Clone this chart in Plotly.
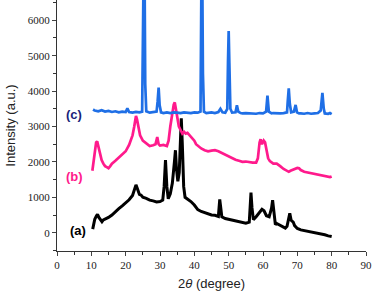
import plotly.graph_objects as go

# (a) black
a_x = [10.4, 10.7, 11, 11.5, 11.8, 12.2, 12.7, 13.1, 13.5, 14, 15, 16, 17, 18, 19, 20, 21, 22, 22.5, 23, 23.4, 24, 24.5, 25, 26, 27, 28, 29, 30, 30.8, 31.2, 31.6, 32, 32.4, 33, 33.6, 34.2, 34.5, 34.8, 35.2, 35.6, 36, 36.2, 36.5, 36.9, 37.3, 38, 39, 40, 41, 42, 43, 44, 45, 46, 47, 47.2, 47.4, 47.7, 48, 49, 50, 51, 52, 53, 54, 55, 56, 56.3, 56.5, 56.8, 57.2, 58, 59, 59.7, 60.3, 61, 61.8, 62.5, 62.8, 63.1, 63.6, 64, 65, 66, 66.5, 67, 67.5, 67.8, 68.2, 68.8, 69.2, 70, 71, 72, 73, 74, 75, 76, 77, 78, 79, 80]
a_y = [100, 250, 380, 480, 520, 430, 350, 310, 360, 380, 430, 500, 600, 680, 760, 850, 930, 1050, 1180, 1350, 1250, 1080, 1060, 1000, 970, 920, 900, 870, 880, 920, 1300, 2050, 1300, 960, 1100, 1400, 2000, 2330, 1800, 1450, 1700, 2800, 3230, 2500, 1300, 1000, 950, 880, 780, 650, 600, 560, 520, 500, 490, 460, 700, 940, 700, 450, 400, 380, 360, 340, 300, 280, 270, 300, 800, 1130, 700, 370, 450, 580, 660, 620, 480, 450, 700, 920, 600, 230, 260, 200, 140, 130, 180, 450, 550, 350, 300, 200, 120, 80, 60, 40, 20, 0, -10, -20, -60, -90, -110]

# (b) pink
b_x = [10.3, 10.6, 11, 11.4, 11.7, 12, 12.5, 13, 13.5, 14, 14.5, 15, 15.5, 16, 17, 18, 19, 20, 21, 22, 22.5, 23, 23.3, 23.7, 24.2, 25, 25.7, 26.5, 27, 28, 28.7, 29.2, 29.6, 30, 31, 32, 32.5, 33, 33.5, 34, 34.3, 34.7, 35, 35.5, 36, 36.5, 37, 37.5, 38, 39, 40, 40.5, 41, 42, 43, 44, 45, 46, 47, 48, 49, 50, 51, 52, 53, 54, 55, 56, 57, 58, 58.5, 59, 59.3, 59.7, 60.2, 60.6, 61, 61.5, 62, 63, 64, 64.5, 65, 66, 67, 67.5, 68, 69, 70, 70.5, 71, 72, 73, 74, 75, 76, 77, 78, 79, 79.5, 80]
b_y = [1750, 1950, 2300, 2550, 2580, 2450, 2200, 2050, 1950, 1880, 1850, 1820, 1880, 1950, 2030, 2120, 2200, 2300, 2480, 2750, 3000, 3300, 3200, 2950, 2750, 2600, 2550, 2480, 2450, 2470, 2500, 2700, 2500, 2460, 2480, 2450, 2600, 3000, 3350, 3620, 3680, 3450, 3200, 3000, 2900, 2800, 2850, 2800, 2820, 2720, 2600, 2500, 2450, 2380, 2330, 2300, 2320, 2330, 2300, 2250, 2200, 2150, 2100, 2060, 2030, 2000, 2010, 1990, 1980, 1980, 2100, 2550, 2640, 2500, 2600, 2550, 2300, 2100, 2020, 1950, 1950, 1920, 1880, 1800, 1750, 1720, 1750, 1800, 1830, 1820, 1770, 1720, 1700, 1680, 1650, 1630, 1610, 1590, 1580, 1570, 1590]

# (c) blue
c_x = [10.5, 11, 12, 13, 14, 15, 16, 17, 18, 19, 20, 20.5, 21, 22, 23, 24, 24.8, 25.1, 25.4, 25.7, 26, 27, 28, 29, 29.3, 29.6, 29.9, 30.3, 31, 32, 33, 34, 35, 36, 37, 38, 39, 40, 41, 41.8, 42.0, 42.2, 42.5, 42.8, 43.5, 44, 45, 46, 47, 47.6, 48.2, 49, 49.6, 49.8, 50.0, 50.2, 50.5, 51, 52, 52.4, 52.8, 53.5, 54, 55, 56, 57, 58, 59, 60, 60.9, 61.3, 61.7, 62.5, 63, 64, 65, 66, 67, 67.2, 67.5, 67.8, 68.2, 69, 69.5, 69.9, 70.5, 71, 72, 73, 74, 75, 76, 76.8, 77.3, 77.7, 78, 79, 79.5, 80]
c_y = [3480, 3450, 3430, 3460, 3420, 3440, 3410, 3430, 3400, 3420, 3410, 3510, 3410, 3390, 3410, 3400, 3420, 4500, 9000, 4200, 3430, 3390, 3400, 3420, 3700, 4100, 3600, 3400, 3380, 3400, 3380, 3400, 3390, 3380, 3400, 3390, 3380, 3400, 3390, 3420, 5000, 9000, 4500, 3420, 3380, 3390, 3400, 3380, 3410, 3500, 3400, 3390, 3500, 4800, 5700, 4800, 3500, 3390, 3400, 3600, 3420, 3380, 3370, 3380, 3370, 3380, 3360, 3380, 3370, 3420, 3870, 3420, 3370, 3380, 3370, 3370, 3380, 3400, 3700, 4080, 3650, 3400, 3420, 3610, 3400, 3370, 3370, 3360, 3380, 3360, 3370, 3380, 3450, 3950, 3500, 3370, 3360, 3380, 3350]

x_ticks = [0, 10, 20, 30, 40, 50, 60, 70, 80, 90]
y_ticks = [0, 1000, 2000, 3000, 4000, 5000, 6000]

labels = ["(a)", "(b)", "(c)"]
label_x = [6.1, 5.0, 5.0]
label_y = [76, 1582, 3325]

BLACK = "#000000"
PINK = "#ff1a8c"
BLUE = "#1f6fe6"
NAVY = "#1a1f7a"

fig = go.Figure()
fig.add_trace(go.Scatter(x=a_x, y=a_y, mode="lines", line=dict(color=BLACK, width=3)))
fig.add_trace(go.Scatter(x=b_x, y=b_y, mode="lines", line=dict(color=PINK, width=2.7)))
fig.add_trace(go.Scatter(x=c_x, y=c_y, mode="lines", line=dict(color=BLUE, width=2.7)))

for t, xx, yy, col in zip(labels, label_x, label_y, [BLACK, PINK, NAVY]):
    fig.add_annotation(x=xx, y=yy, text="<b>" + t + "</b>", showarrow=False,
                       font=dict(family="Liberation Sans, Arial", size=13, color=col))

axis_font = dict(family="Liberation Serif, Times New Roman", size=11, color="#222")
fig.update_layout(
    width=375, height=296,
    margin=dict(l=57, r=9, t=0, b=45),
    plot_bgcolor="white", paper_bgcolor="white",
    showlegend=False,
    xaxis=dict(range=[0, 90], tickvals=x_ticks, ticks="outside", ticklen=4, tickwidth=1,
               showline=True, linecolor="#333", linewidth=1.3, showgrid=False, zeroline=False,
               tickfont=axis_font, automargin=False,
               minor=dict(dtick=5, ticks="outside", ticklen=2.5, tickcolor="#333"),
               title=dict(text="2<i>θ</i> (degree)", standoff=8,
                          font=dict(family="Liberation Sans, Arial", size=13, color="#222"))),
    yaxis=dict(range=[-517, 6573], tickvals=y_ticks, ticks="outside", ticklen=4, tickwidth=1,
               showline=True, linecolor="#333", linewidth=1.3, showgrid=False, zeroline=False,
               tickfont=axis_font, automargin=False,
               minor=dict(dtick=500, ticks="outside", ticklen=2.5, tickcolor="#333"),
               title=dict(text="Intensity (a.u.)", standoff=9,
                          font=dict(family="Liberation Sans, Arial", size=13, color="#222"))),
)
fig.write_html("out.html", config={"displayModeBar": False},
               post_script="document.body.style.margin='0';document.body.style.overflow='hidden';")
